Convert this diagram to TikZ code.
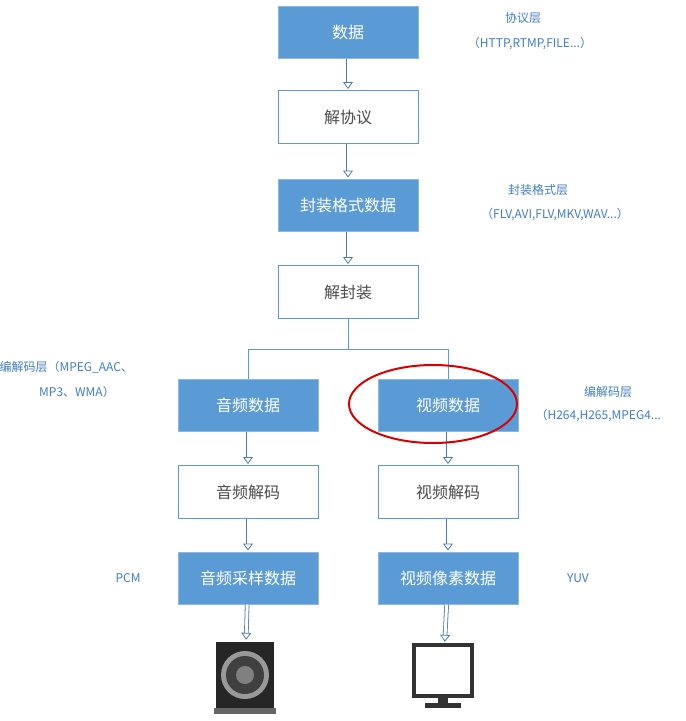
\documentclass[tikz,border=0pt]{standalone}
\usepackage{fontspec}
\setmainfont{Noto Sans CJK SC}
\usetikzlibrary{arrows.meta}
\definecolor{bb}{HTML}{5B9BD5}
\definecolor{lb}{HTML}{3F7FC4}
\begin{document}
\begin{tikzpicture}[x=1pt,y=-1pt,
  filled/.style={draw=bb!70!white,fill=bb,text=white,minimum width=140pt,minimum height=52pt,font=\fontsize{16}{18}\selectfont,line width=1pt},
  hollow/.style={draw=bb,fill=white,text=black!70,minimum width=140pt,minimum height=53pt,font=\fontsize{16}{18}\selectfont,line width=1pt},
  harrow/.style={draw=bb!80!black,double=white,double distance=3pt,line width=0.8pt,-{Triangle[open,length=7pt,width=10pt]},shorten >=1pt},
  lab/.style={text=lb,font=\fontsize{12}{14}\selectfont,align=center},
  conn/.style={draw=bb,line width=1pt}]
\useasboundingbox (0,0) rectangle (686,721);
\node[filled] (a) at (348,32) {数据};
\node[hollow] (b) at (348,117) {解协议};
\node[filled] (c) at (348,205) {封装格式数据};
\node[hollow] (d) at (348,292) {解封装};
\node[filled] (e1) at (248,405) {音频数据};
\node[filled] (e2) at (448,405) {视频数据};
\node[hollow] (f1) at (248,492) {音频解码};
\node[hollow] (f2) at (448,492) {视频解码};
\node[filled] (g1) at (248,578) {音频采样数据};
\node[filled] (g2) at (448,578) {视频像素数据};
\draw[harrow] (a) -- (b);
\draw[harrow] (b) -- (c);
\draw[harrow] (c) -- (d);
\coordinate (j) at (348,349);
\draw[conn] (d) -- (j) -| (e1);
\draw[conn] (j) -| (e2);
\draw[harrow] (e1) -- (f1);
\draw[harrow] (e2) -- (f2);
\draw[harrow] (f1) -- (g1);
\draw[harrow] (f2) -- (g2);
% speaker
\node[inner sep=0,minimum width=60pt,minimum height=72pt] (sp) at (245,677) {};
\fill[black!85] (216,642) rectangle (274,710);
\fill[black!60] (214,708) rectangle (276,714);
\fill[black!40] (245,675) circle (24);
\fill[black!75] (245,675) circle (19);
\fill[black!50] (245,675) circle (9);
% monitor
\node[inner sep=0,minimum width=64pt,minimum height=66pt] (mo) at (443,676) {};
\fill[black!80] (412,643) rectangle (474,698);
\fill[white] (416,647) rectangle (470,694);
\fill[black!80] (438,698) rectangle (448,703);
\fill[black!80] (425,703) rectangle (461,708);
\draw[harrow] (g1) -- (sp);
\draw[harrow] (g2) -- (mo);
\draw[red!85!black,line width=2pt] (433,404) ellipse (84 and 39);
\node[lab] at (523,18) {协议层};
\node[lab] at (530,43) {（HTTP,RTMP,FILE...）};
\node[lab] at (538,190) {封装格式层};
\node[lab] at (555,214) {（FLV,AVI,FLV,MKV,WAV...）};
\node[lab,anchor=west] at (-4,367) {编解码层（MPEG\_AAC、};
\node[lab] at (77,392) {MP3、WMA）};
\node[lab] at (608,392) {编解码层};
\node[lab,anchor=west] at (532,415) {（H264,H265,MPEG4...};
\node[lab] at (128,578) {PCM};
\node[lab] at (578,578) {YUV};
\end{tikzpicture}
\end{document}
